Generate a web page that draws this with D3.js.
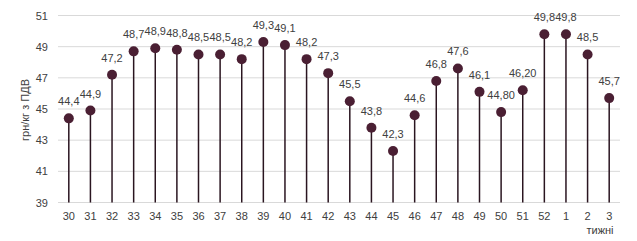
<!DOCTYPE html>
<html><head><meta charset="utf-8">
<script src="https://cdn.jsdelivr.net/npm/d3@7"></script>
<style>body{margin:0;background:#fff}svg{display:block}text{font-family:"Liberation Sans",Arial,sans-serif}</style>
</head><body><svg id="c" width="637" height="241"></svg>
<script>
const weeks = ["30","31","32","33","34","35","36","37","38","39","40","41","42","43","44","45","46","47","48","49","50","51","52","1","2","3"];
const prices = [44.4,44.9,47.2,48.7,48.9,48.8,48.5,48.5,48.2,49.3,49.1,48.2,47.3,45.5,43.8,42.3,44.6,46.8,47.6,46.1,44.8,46.2,49.8,49.8,48.5,45.7];
const labels = ["44,4","44,9","47,2","48,7","48,9","48,8","48,5","48,5","48,2","49,3","49,1","48,2","47,3","45,5","43,8","42,3","44,6","46,8","47,6","46,1","44,80","46,20","49,8","49,8","48,5","45,7"];
const yTicks = [39,41,43,45,47,49,51];
const yTitle = "грн/кг з ПДВ";
const xTitle = "тижні";

const svg = d3.select("#c");
const x = d3.scaleBand().domain(weeks).range([58,620]);
const y = d3.scaleLinear().domain([39,51]).range([202.5,15.5]);

svg.append("g").selectAll("line").data(yTicks).join("line")
  .attr("x1",58).attr("x2",620).attr("y1",d=>y(d)).attr("y2",d=>y(d))
  .attr("stroke","#d9d9d9").attr("stroke-width",1);

const yAxis = d3.axisLeft(y).tickValues(yTicks).tickSize(0).tickPadding(10).tickFormat(d3.format("d"));
const gy = svg.append("g").attr("transform","translate(58,0)").call(yAxis);
gy.select(".domain").remove();
gy.selectAll("text").attr("font-size",11).attr("fill","#404040").style("font-family","Liberation Sans, Arial, sans-serif");

const xAxis = d3.axisBottom(x).tickSize(0).tickPadding(10);
const gx = svg.append("g").attr("transform","translate(0,"+y(39)+")").call(xAxis);
gx.select(".domain").remove();
gx.selectAll("text").attr("font-size",11).attr("fill","#404040").style("font-family","Liberation Sans, Arial, sans-serif");

const cx = d => x(d) + x.bandwidth()/2;
const data = weeks.map((w,i)=>({w, v:prices[i], l:labels[i]}));

svg.append("g").selectAll("line").data(data).join("line")
  .attr("x1",d=>cx(d.w)).attr("x2",d=>cx(d.w))
  .attr("y1",y(39)).attr("y2",d=>y(d.v))
  .attr("stroke","#2a1520").attr("stroke-width",1.5);

svg.append("g").selectAll("circle").data(data).join("circle")
  .attr("cx",d=>cx(d.w)).attr("cy",d=>y(d.v)).attr("r",5)
  .attr("fill","#4a1f33");

svg.append("g").selectAll("text").data(data).join("text")
  .attr("x",d=>cx(d.w)).attr("y",d=>y(d.v)-13)
  .attr("text-anchor","middle").attr("font-size",11).attr("fill","#404040")
  .text(d=>d.l);

svg.append("text").attr("transform","translate(29,110) rotate(-90)")
  .attr("text-anchor","middle").attr("font-size",11).attr("fill","#404040").text(yTitle);
svg.append("text").attr("x",600).attr("y",234)
  .attr("text-anchor","middle").attr("font-size",11).attr("fill","#404040").text(xTitle);
</script></body></html>
